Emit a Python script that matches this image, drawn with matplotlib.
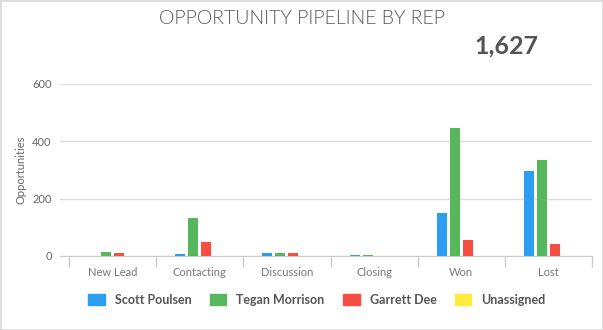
import numpy as np
import matplotlib.pyplot as plt
from matplotlib.patches import Patch, Rectangle

# chart data
stages = ['New Lead', 'Contacting', 'Discussion', 'Closing', 'Won', 'Lost']
reps = ['Scott Poulsen', 'Tegan Morrison', 'Garrett Dee', 'Unassigned']
scott = [0, 8, 12, 4, 150, 296]
tegan = [13, 131, 9, 4, 446, 334]
garrett = [12, 50, 12, 0, 56, 42]
unassigned = [0, 0, 0, 0, 0, 0]
total_label = '1,627'

colors = ['#2b9ef3', '#57b75c', '#f64e40', '#ffeb3b']
plt.rcParams['font.family'] = ['Lato', 'DejaVu Sans']

W, H = 603, 330
fig = plt.figure(figsize=(W / 100, H / 100), dpi=100)
fig.patches.append(Rectangle((0, 0), 1, 1, transform=fig.transFigure,
                             fill=False, edgecolor='#dddddd', lw=2))

# axes placed in pixel coordinates
left, right, top, bottom = 60, 592, 84, 256
ax = fig.add_axes([left / W, 1 - bottom / H, (right - left) / W, (bottom - top) / H])

x = np.arange(len(stages))
cat_px = (right - 69) / len(stages)
bw = 10 / cat_px
step = 13 / cat_px
for i, (vals, c) in enumerate(zip([scott, tegan, garrett, unassigned], colors)):
    ax.bar(x + (i - 1.5) * step, vals, width=bw, color=c, zorder=3)

ax.set_xlim(-0.5 - 9 / cat_px, len(stages) - 0.5)
ax.set_ylim(0, 600)
ax.set_yticks([0, 200, 400, 600])
ax.yaxis.grid(True, color='#dddddd', lw=1)
ax.set_axisbelow(True)
for s in ['top', 'right', 'left']:
    ax.spines[s].set_visible(False)
ax.spines['bottom'].set_color('#cccccc')
ax.tick_params(axis='y', length=0, labelsize=8, labelcolor='#666666', pad=6)

# category labels at centres, tick marks at boundaries
ax.set_xticks(x)
ax.set_xticklabels(stages)
ax.tick_params(axis='x', which='major', length=0, labelsize=8, labelcolor='#777777', pad=8)
ax.set_xticks(np.arange(len(stages) + 1) - 0.5, minor=True)
ax.tick_params(axis='x', which='minor', length=8, color='#cccccc', width=1)

ax.set_ylabel('Opportunities', fontsize=8, color='#666666', labelpad=4)

fig.text(302 / W, 1 - 18 / H, 'OPPORTUNITY PIPELINE BY REP', ha='center', va='center',
         fontsize=14, fontweight=300, color='#555555')
fig.text(506 / W, 1 - 46 / H, total_label, ha='center', va='center',
         fontsize=18, fontweight='bold', color='#555555')

handles = [Patch(color=c, label=r) for r, c in zip(reps, colors)]
leg = fig.legend(handles=handles, loc='center', bbox_to_anchor=(317 / W, 1 - 300 / H),
                 ncol=4, frameon=False, handlelength=1.3, handleheight=0.95,
                 handletextpad=0.8, columnspacing=1.5, prop={'size': 9, 'weight': 'bold'})
for t in leg.get_texts():
    t.set_color('#555555')

fig.savefig('out.png', dpi=100)
